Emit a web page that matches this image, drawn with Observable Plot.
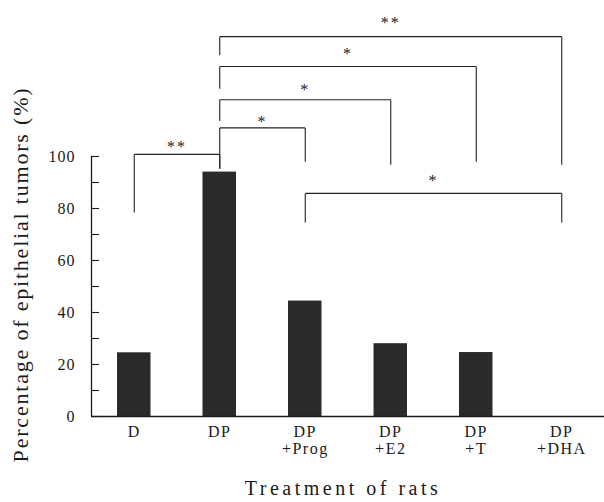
<!DOCTYPE html>
<html><head><meta charset="utf-8">
<script src="https://cdn.jsdelivr.net/npm/d3@7"></script>
<script src="https://cdn.jsdelivr.net/npm/@observablehq/plot@0.6"></script>
<style>
body{margin:0;background:#fff;}
#chart svg{display:block;}
</style>
</head><body><div id="chart"></div>
<script>
// Data
const categories = ["D", "DP", "DP\n+Prog", "DP\n+E2", "DP\n+T", "DP\n+DHA"];
const percentages = [24.5, 94, 44.4, 28, 24.6, 0];
const yTickLabels = [0, 20, 40, 60, 80, 100];
const yMinorTicks = [0, 10, 20, 30, 40, 50, 60, 70, 80, 90, 100];
// significance comparisons (category indices, levels in % units)
const comparisonFrom = [0, 1, 1, 1, 1, 2];
const comparisonTo = [1, 2, 3, 4, 5, 5];
const comparisonLevel = [100.8, 111, 121.8, 134.6, 146.1, 85.8];
const fromLegEnd = [78.5, 95.3, 113.7, 126.1, 138.9, 74.6];
const toLegEnd = [95.3, 98, 96.8, 98, 96.8, 74.6];
const significance = ["**", "*", "*", "*", "**", "*"];
const starLevel = [103.8, 113.5, 125.8, 139.6, 151.4, 90.8];
const yLabel = "Percentage of epithelial tumors (%)";
const xLabel = "Treatment of rats";

const bars = categories.map((c, i) => ({i, c, v: percentages[i]}));
const segs = [];
const stars = [];
comparisonFrom.forEach((f, k) => {
  const a = f + 0.5, b = comparisonTo[k] + 0.5, L = comparisonLevel[k];
  segs.push({x1: a, x2: b, y1: L, y2: L});
  segs.push({x1: a, x2: a, y1: L, y2: fromLegEnd[k]});
  segs.push({x1: b, x2: b, y1: L, y2: toLegEnd[k]});
  stars.push({x: (a + b) / 2, y: starLevel[k], t: significance[k]});
});

const ink = "#1a1a1a";
const chart = Plot.plot({
  width: 604,
  height: 502,
  marginLeft: 91,
  marginRight: 0,
  marginTop: 156,
  marginBottom: 86,
  style: {fontFamily: "'Liberation Serif', 'DejaVu Serif', serif", fontSize: "16px", color: ink, background: "#fff"},
  x: {type: "linear", domain: [0, 6]},
  y: {domain: [0, 100]},
  marks: [
    Plot.rectY(bars, {x: "i", y: "v", interval: 1, insetLeft: 26, insetRight: 26, fill: "#2a2a2a"}),
    Plot.ruleY([0], {stroke: ink, strokeWidth: 1.3}),
    Plot.ruleX([0], {y1: 0, y2: 100, stroke: ink, strokeWidth: 1.3}),
    Plot.ruleY(yMinorTicks, {y: d => d, insetRight: 505, stroke: ink, strokeWidth: 1.1}),
    Plot.axisY({ticks: yTickLabels, tickSize: 0, tickPadding: 16, fontSize: 16, label: null, fill: ink}),
    Plot.axisX({ticks: categories.map((c, i) => i + 0.5), tickFormat: d => categories[Math.floor(d)], tickSize: 0, tickPadding: 9, fontSize: 16, lineHeight: 1.05, label: null, fill: ink}),
    Plot.link(segs, {x1: "x1", y1: "y1", x2: "x2", y2: "y2", stroke: "#222", strokeWidth: 1.1}),
    Plot.text(stars, {x: "x", y: "y", text: "t", fontSize: 16, fill: ink}),
    Plot.text([yLabel], {text: d => d, frameAnchor: "left", textAnchor: "middle", rotate: -90, dx: -71, dy: -12, fontSize: 22, fill: ink}),
    Plot.text([xLabel], {text: d => d, frameAnchor: "bottom", textAnchor: "middle", lineAnchor: "top", dx: -5, dy: 64, fontSize: 20, fill: ink})
  ]
});
document.getElementById("chart").appendChild(chart);
const starSet = new Set(significance);
d3.select(chart).selectAll("text").each(function() {
  const t = this.textContent;
  let ls = null;
  if (t === yLabel) ls = "1.8px";
  else if (t === xLabel) ls = "3.5px";
  else if (starSet.has(t)) ls = "2px";
  else if (/^\d+$/.test(t)) ls = "1px";
  else ls = "1.5px";
  this.style.letterSpacing = ls;
});
</script>
</body></html>
